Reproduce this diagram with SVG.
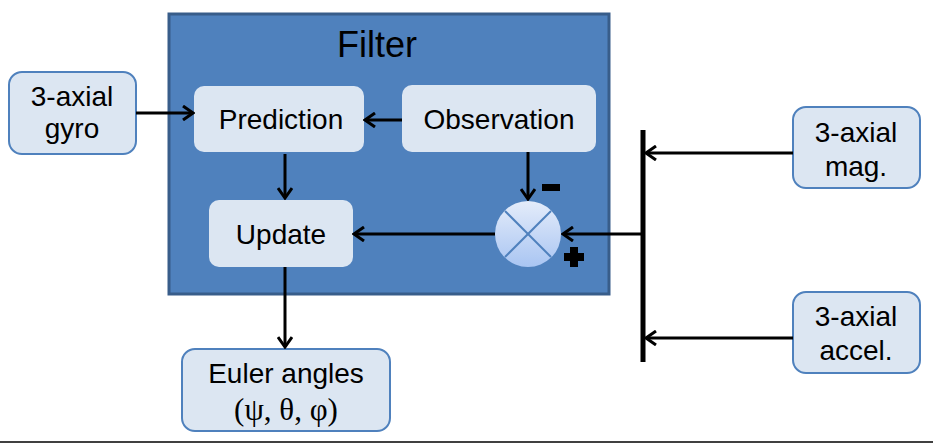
<svg xmlns="http://www.w3.org/2000/svg" width="933" height="443" viewBox="0 0 933 443">
<style>
.t{font-family:"Liberation Sans",Arial,sans-serif;font-size:28px;fill:#000;text-anchor:middle}
.ext{fill:#dce6f2;stroke:#4f81bd;stroke-width:2}
.int{fill:#dce6f2}
.c{stroke:#000;stroke-width:3;fill:none}
</style>
<defs>
<marker id="arr" viewBox="0 0 14 16" markerWidth="14" markerHeight="16" refX="12" refY="8" orient="auto" markerUnits="userSpaceOnUse">
<path d="M2,1 L12,8 L2,15" fill="none" stroke="#000" stroke-width="3"/>
</marker>
<linearGradient id="sum" x1="0" y1="0" x2="0" y2="1">
<stop offset="0" stop-color="#e4ecfa"/>
<stop offset="1" stop-color="#a9c5f2"/>
</linearGradient>
</defs>
<rect width="933" height="443" fill="#fff"/>
<line x1="0" y1="442" x2="933" y2="442" stroke="#404040" stroke-width="2"/>

<g id="filter">
<rect x="169" y="14" width="440" height="280" fill="#4f81bd" stroke="#385d8a" stroke-width="3"/>
<text class="t" x="377" y="57" style="font-size:36px">Filter</text>
</g>

<g id="gyro">
<rect class="ext" x="9" y="72" width="127" height="82" rx="13"/>
<text class="t" x="72" y="106">3-axial</text>
<text class="t" x="72" y="138">gyro</text>
</g>

<g id="prediction">
<rect class="int" x="194" y="86" width="170" height="66" rx="10"/>
<text class="t" x="281" y="129">Prediction</text>
</g>

<g id="observation">
<rect class="int" x="402" y="85" width="194" height="67" rx="10"/>
<text class="t" x="499" y="129">Observation</text>
</g>

<g id="update">
<rect class="int" x="209" y="200" width="144" height="67" rx="10"/>
<text class="t" x="281" y="244">Update</text>
</g>

<g id="sum">
<circle cx="528" cy="234" r="33" fill="url(#sum)"/>
<line x1="505" y1="211" x2="551" y2="257" stroke="#4f81bd" stroke-width="2"/>
<line x1="551" y1="211" x2="505" y2="257" stroke="#4f81bd" stroke-width="2"/>
<rect x="542" y="184" width="18" height="7" fill="#000"/>
<path d="M570,247 h8 v6 h6 v8 h-6 v6 h-8 v-6 h-6 v-8 h6 z" fill="#000"/>
</g>

<g id="euler">
<rect class="ext" x="182" y="349" width="208" height="82" rx="13"/>
<text class="t" x="286" y="383">Euler angles</text>
<text class="t" x="286" y="420" style="font-family:'Liberation Serif','Times New Roman',serif;font-size:31px">(ψ, θ, φ)</text>
</g>

<g id="mag">
<rect class="ext" x="793" y="107" width="127" height="81" rx="13"/>
<text class="t" x="856" y="142">3-axial</text>
<text class="t" x="856" y="176">mag.</text>
</g>

<g id="accel">
<rect class="ext" x="793" y="292" width="127" height="81" rx="13"/>
<text class="t" x="856" y="326">3-axial</text>
<text class="t" x="856" y="360">accel.</text>
</g>

<g id="connectors">
<line class="c" x1="136" y1="113" x2="193" y2="113" marker-end="url(#arr)"/>
<line class="c" x1="402" y1="120" x2="365" y2="120" marker-end="url(#arr)"/>
<line class="c" x1="285" y1="154" x2="285" y2="198" marker-end="url(#arr)"/>
<line class="c" x1="528" y1="152" x2="528" y2="199" marker-end="url(#arr)"/>
<line class="c" x1="495" y1="234" x2="354" y2="234" marker-end="url(#arr)"/>
<line class="c" x1="643" y1="234" x2="563" y2="234" marker-end="url(#arr)"/>
<line class="c" x1="285" y1="267" x2="285" y2="347" marker-end="url(#arr)"/>
<line x1="643" y1="130" x2="643" y2="362" stroke="#000" stroke-width="5"/>
<line class="c" x1="793" y1="153" x2="646" y2="153" marker-end="url(#arr)"/>
<line class="c" x1="793" y1="338" x2="646" y2="338" marker-end="url(#arr)"/>
</g>
</svg>
